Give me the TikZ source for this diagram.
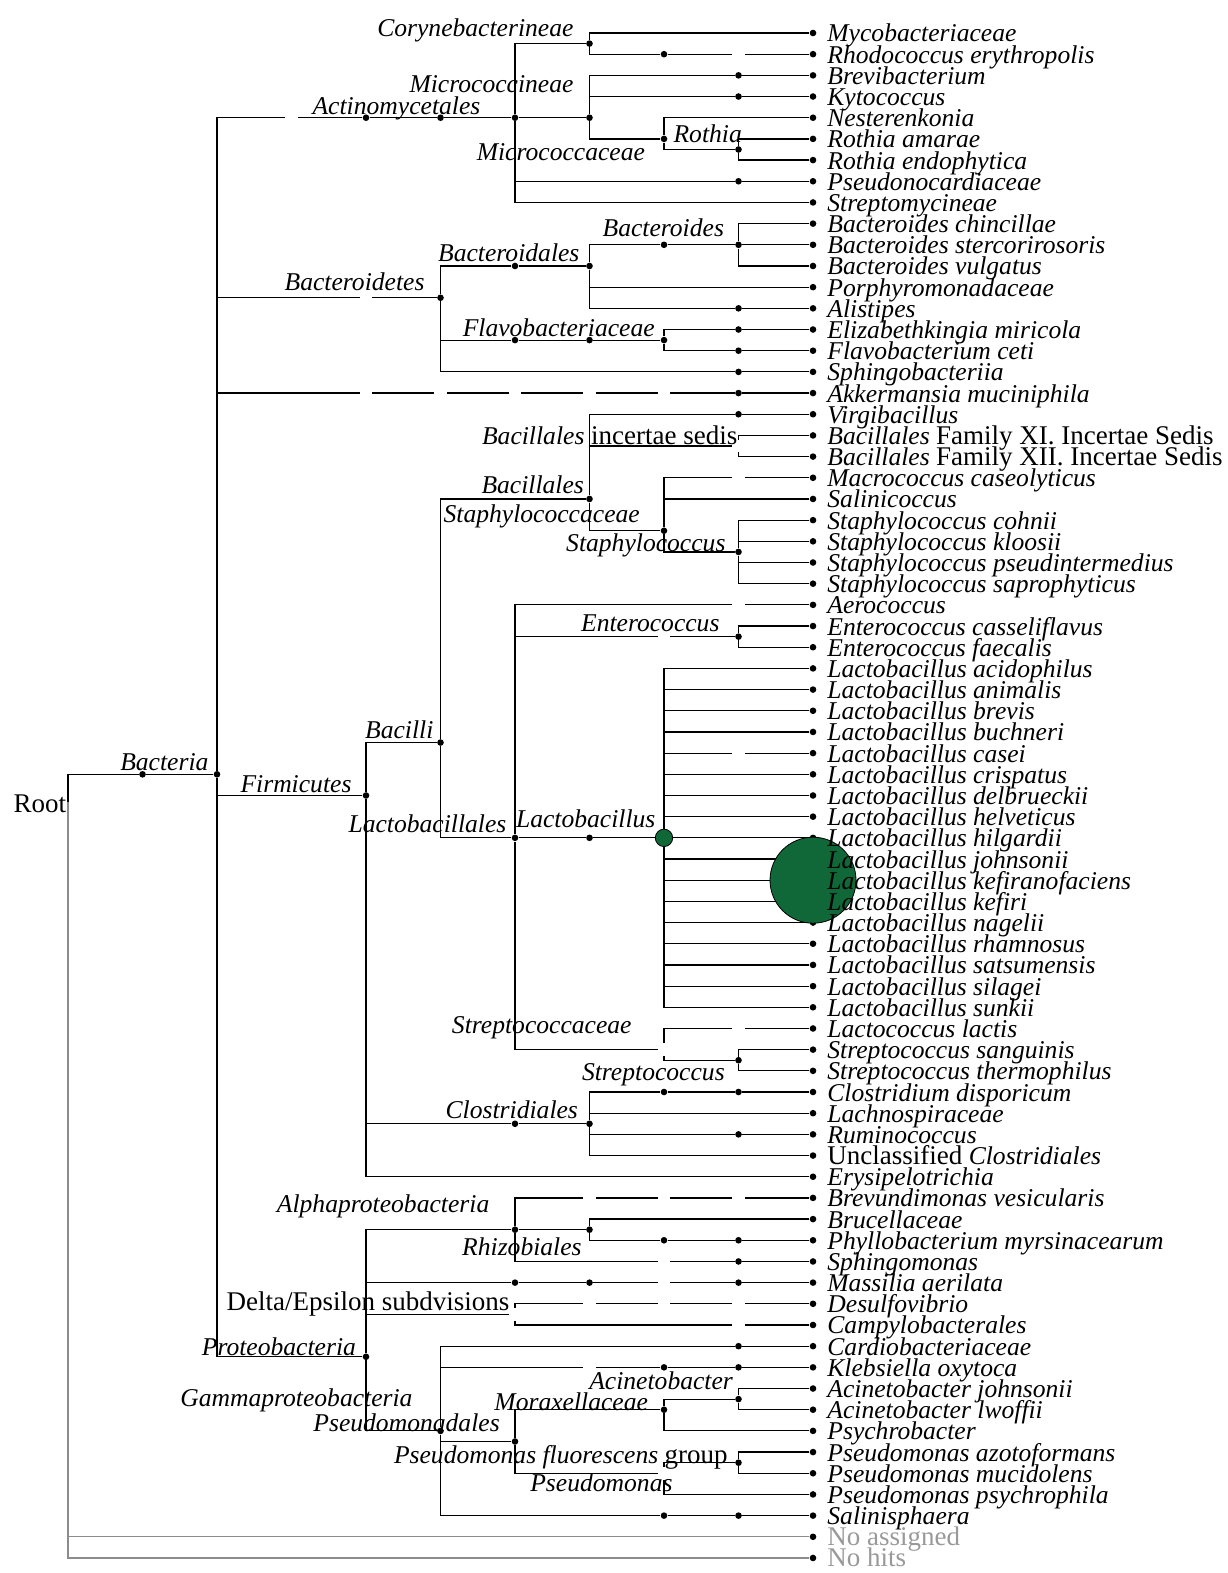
\documentclass[tikz,border=0pt]{standalone}
\usepackage{fontspec}
\setmainfont{Liberation Serif}
\usepackage{xcolor}
\usepackage{tikz}
\usetikzlibrary{positioning,calc}

\definecolor{lbgreen}{RGB}{16,104,56}
\newcommand{\uptxt}[1]{{\fontsize{13.5}{14}\selectfont\upshape #1}}
\newcommand{\ittxt}[1]{{\fontsize{12.8}{13}\selectfont\itshape #1}}

\begin{document}
\begin{tikzpicture}[
  x=37.25pt, y=-10.59pt,
  branch/.style={draw, line width=0.6pt},
  greybranch/.style={draw=black!45, line width=0.6pt},
  knot/.style={circle, fill=black, inner sep=0pt, minimum size=3.3pt},
  hollow/.style={circle, inner sep=0pt, minimum size=6pt},
  bubble/.style={circle, draw=black, line width=0.4pt, fill=lbgreen, inner sep=0pt},
  taxon/.style={font=\fontsize{12.8}{13}\selectfont\itshape, inner sep=0pt, anchor=base east, yshift=-2pt},
  plain/.style={taxon, font=\fontsize{13.5}{14}\selectfont\upshape},
  leaftxt/.style={font=\fontsize{12.8}{13}\selectfont\itshape, inner sep=0pt, anchor=base west}
]
\useasboundingbox (-0.9128,-0.558) rectangle (15.570,73.71);

% leaves (one row each)
\foreach \i in {1,...,73}
  \node[knot] (l\i) at (10,\i) {};

% Root and Bacteria
\coordinate (root) at (0,37.3);
\node[knot] (bact1) at (1,36) {};
\node[knot] (bact) at (2,36) {};

\draw[branch] (root) |- (bact1) -- (bact);
\draw[greybranch] (root) |- (l72);
\draw[greybranch] (root) |- (l73);

% Actinomycetales
\node[hollow] (act3) at (3,5) {};
\node[knot] (act4) at (4,5) {};
\node[knot] (act5) at (5,5) {};
\node[knot] (act) at (6,5) {};
\node[knot] (cory) at (7,1.5) {};
\node[knot] (rho8) at (8,2) {};
\node[hollow] (rho9) at (9,2) {};
\node[knot] (micro) at (7,5) {};
\node[knot] (bre9) at (9,3) {};
\node[knot] (kyt9) at (9,4) {};
\node[knot] (mcc) at (8,6) {};
\node[knot] (roth) at (9,6.5) {};
\node[knot] (psn9) at (9,8) {};

\draw[branch] (bact) |- (act3) -- (act4) -- (act5) -- (act);
\draw[branch] (act) |- (cory);
\draw[branch] (cory) |- (l1);
\draw[branch] (cory) |- (rho8) -- (rho9) -- (l2);
\draw[branch] (act) -- (micro);
\draw[branch] (micro) |- (bre9) -- (l3);
\draw[branch] (micro) |- (kyt9) -- (l4);
\draw[branch] (micro) |- (mcc);
\draw[branch] (mcc) |- (l5);
\draw[branch] (mcc) |- (roth);
\draw[branch] (roth) |- (l6);
\draw[branch] (roth) |- (l7);
\draw[branch] (act) |- (psn9) -- (l8);
\draw[branch] (act) |- (l9);

% Bacteroidetes
\node[hollow] (bdt4) at (4,13.5) {};
\node[knot] (bdt) at (5,13.5) {};
\node[knot] (bdl6) at (6,12) {};
\node[knot] (bdl) at (7,12) {};
\node[knot] (bds8) at (8,11) {};
\node[knot] (bds) at (9,11) {};
\node[knot] (ali9) at (9,14) {};
\node[knot] (flv6) at (6,15.5) {};
\node[knot] (flv7) at (7,15.5) {};
\node[knot] (flv) at (8,15.5) {};
\node[knot] (eli9) at (9,15) {};
\node[knot] (fla9) at (9,16) {};
\node[knot] (sph9) at (9,17) {};

\draw[branch] (bact) |- (bdt4) -- (bdt);
\draw[branch] (bdt) |- (bdl6) -- (bdl);
\draw[branch] (bdl) |- (bds8) -- (bds);
\draw[branch] (bds) |- (l10);
\draw[branch] (bds) -- (l11);
\draw[branch] (bds) |- (l12);
\draw[branch] (bdl) |- (l13);
\draw[branch] (bdl) |- (ali9) -- (l14);
\draw[branch] (bdt) |- (flv6) -- (flv7) -- (flv);
\draw[branch] (flv) |- (eli9) -- (l15);
\draw[branch] (flv) |- (fla9) -- (l16);
\draw[branch] (bdt) |- (sph9) -- (l17);

% Akkermansia
\foreach \k in {4,...,8}
  \node[hollow] (akk\k) at (\k,18) {};
\node[knot] (akk9) at (9,18) {};
\draw[branch] (bact) |- (akk4) -- (akk5) -- (akk6) -- (akk7) -- (akk8) -- (akk9) -- (l18);

% Firmicutes
\node[knot] (fir) at (4,37) {};
\node[knot] (bcl) at (5,34.5) {};
\node[knot] (bcs) at (7,23) {};
\node[knot] (vir9) at (9,19) {};
\node[hollow] (ins) at (9,20.5) {};
\node[knot] (stc) at (8,24.5) {};
\node[hollow] (mac9) at (9,22) {};
\node[knot] (sts) at (9,25.5) {};
\node[knot] (lcl) at (6,39) {};
\node[hollow] (aer9) at (9,28) {};
\node[hollow] (ent8) at (8,29.5) {};
\node[knot] (ent) at (9,29.5) {};
\node[knot] (lbc7) at (7,39) {};
\node[bubble, minimum size=8.7pt] (lb) at (8,39) {};
\node[hollow] (cas9) at (9,35) {};
\node[hollow] (stp) at (8,49) {};
\node[hollow] (lco9) at (9,48) {};
\node[knot] (str) at (9,49.5) {};
\node[knot] (clo6) at (6,52.5) {};
\node[knot] (clo) at (7,52.5) {};
\node[knot] (cd8) at (8,51) {};
\node[knot] (cd9) at (9,51) {};
\node[knot] (rum9) at (9,53) {};

\draw[branch] (bact) |- (fir);
\draw[branch] (fir) |- (bcl);
\draw[branch] (bcl) |- (bcs);
\draw[branch] (bcs) |- (vir9) -- (l19);
\draw[branch] (bcs) |- (ins);
\draw[branch] (ins) |- (l20);
\draw[branch] (ins) |- (l21);
\draw[branch] (bcs) |- (stc);
\draw[branch] (stc) |- (mac9) -- (l22);
\draw[branch] (stc) |- (l23);
\draw[branch] (stc) |- (sts);
\foreach \i in {24,...,27}
  \draw[branch] (sts) |- (l\i);
\draw[branch] (bcl) |- (lcl);
\draw[branch] (lcl) |- (aer9) -- (l28);
\draw[branch] (lcl) |- (ent8) -- (ent);
\draw[branch] (ent) |- (l29);
\draw[branch] (ent) |- (l30);
\draw[branch] (lcl) -- (lbc7) -- (lb) -- (l39);
\foreach \i in {31,32,33,34,36,37,38,40,41,42,43,44,45,46,47}
  \draw[branch] (lb) |- (l\i);
\draw[branch] (lb) |- (cas9) -- (l35);
\draw[branch] (lcl) |- (stp);
\draw[branch] (stp) |- (lco9) -- (l48);
\draw[branch] (stp) |- (str);
\draw[branch] (str) |- (l49);
\draw[branch] (str) |- (l50);
\draw[branch] (fir) |- (clo6) -- (clo);
\draw[branch] (clo) |- (cd8) -- (cd9) -- (l51);
\draw[branch] (clo) |- (l52);
\draw[branch] (clo) |- (rum9) -- (l53);
\draw[branch] (clo) |- (l54);
\draw[branch] (fir) |- (l55);

% Proteobacteria
\node[knot] (prt) at (4,63.5) {};
\node[knot] (alp) at (6,57.5) {};
\foreach \k in {7,8,9}
  \node[hollow] (bv\k) at (\k,56) {};
\node[knot] (rhz) at (7,57.5) {};
\node[knot] (phy8) at (8,58) {};
\node[knot] (phy9) at (9,58) {};
\node[hollow] (sgm8) at (8,59) {};
\node[knot] (sgm9) at (9,59) {};
\node[knot] (mas6) at (6,60) {};
\node[knot] (mas7) at (7,60) {};
\node[hollow] (mas8) at (8,60) {};
\node[knot] (mas9) at (9,60) {};
\node[hollow] (del) at (6,61.5) {};
\foreach \k in {7,8,9}
  \node[hollow] (dsv\k) at (\k,61) {};
\node[hollow] (cmp9) at (9,62) {};
\node[knot] (gam) at (5,67) {};
\node[knot] (car9) at (9,63) {};
\node[hollow] (kle7) at (7,64) {};
\node[knot] (kle8) at (8,64) {};
\node[knot] (kle9) at (9,64) {};
\node[knot] (psd) at (6,67.5) {};
\node[knot] (mrx) at (8,66) {};
\node[knot] (aci) at (9,65.5) {};
\node[hollow] (pse) at (8,69) {};
\node[knot] (pfg) at (9,68.5) {};
\node[knot] (sal8) at (8,71) {};
\node[knot] (sal9) at (9,71) {};

\draw[branch] (bact) |- (prt);
\draw[branch] (prt) |- (alp);
\draw[branch] (alp) |- (bv7) -- (bv8) -- (bv9) -- (l56);
\draw[branch] (alp) -- (rhz);
\draw[branch] (rhz) |- (l57);
\draw[branch] (rhz) |- (phy8) -- (phy9) -- (l58);
\draw[branch] (alp) |- (sgm8) -- (sgm9) -- (l59);
\draw[branch] (prt) |- (mas6) -- (mas7) -- (mas8) -- (mas9) -- (l60);
\draw[branch] (prt) |- (del);
\draw[branch] (del) |- (dsv7) -- (dsv8) -- (dsv9) -- (l61);
\draw[branch] (del) |- (cmp9) -- (l62);
\draw[branch] (prt) |- (gam);
\draw[branch] (gam) |- (car9) -- (l63);
\draw[branch] (gam) |- (kle7) -- (kle8) -- (kle9) -- (l64);
\draw[branch] (gam) |- (psd);
\draw[branch] (psd) |- (mrx);
\draw[branch] (mrx) |- (aci);
\draw[branch] (aci) |- (l65);
\draw[branch] (aci) |- (l66);
\draw[branch] (mrx) |- (l67);
\draw[branch] (psd) |- (pse);
\draw[branch] (pse) |- (pfg);
\draw[branch] (pfg) |- (l68);
\draw[branch] (pfg) |- (l69);
\draw[branch] (pse) |- (l70);
\draw[branch] (gam) |- (sal8) -- (sal9) -- (l71);

% big bubble over L. kefiranofaciens
\node[bubble, minimum size=43pt] (kef) at (l41) {};

% leaf names
\foreach \i/\txt in {1/Mycobacteriaceae, 2/Rhodococcus erythropolis, 3/Brevibacterium,
    4/Kytococcus, 5/Nesterenkonia, 6/Rothia amarae, 7/Rothia endophytica,
    8/Pseudonocardiaceae, 9/Streptomycineae, 10/Bacteroides chincillae,
    11/Bacteroides stercorirosoris, 12/Bacteroides vulgatus, 13/Porphyromonadaceae,
    14/Alistipes, 15/Elizabethkingia miricola, 16/Flavobacterium ceti,
    17/Sphingobacteriia, 18/Akkermansia muciniphila, 19/Virgibacillus,
    20/{Bacillales \uptxt{Family XI. Incertae Sedis}},
    21/{Bacillales \uptxt{Family XII. Incertae Sedis}},
    22/Macrococcus caseolyticus, 23/Salinicoccus, 24/Staphylococcus cohnii,
    25/Staphylococcus kloosii, 26/Staphylococcus pseudintermedius,
    27/Staphylococcus saprophyticus, 28/Aerococcus, 29/Enterococcus casseliflavus,
    30/Enterococcus faecalis, 31/Lactobacillus acidophilus, 32/Lactobacillus animalis,
    33/Lactobacillus brevis, 34/Lactobacillus buchneri, 35/Lactobacillus casei,
    36/Lactobacillus crispatus, 37/Lactobacillus delbrueckii, 38/Lactobacillus helveticus,
    39/Lactobacillus hilgardii, 40/Lactobacillus johnsonii, 41/Lactobacillus kefiranofaciens,
    42/Lactobacillus kefiri, 43/Lactobacillus nagelii, 44/Lactobacillus rhamnosus,
    45/Lactobacillus satsumensis, 46/Lactobacillus silagei, 47/Lactobacillus sunkii,
    48/Lactococcus lactis, 49/Streptococcus sanguinis, 50/Streptococcus thermophilus,
    51/Clostridium disporicum, 52/Lachnospiraceae, 53/Ruminococcus,
    54/{\uptxt{Unclassified} Clostridiales}, 55/Erysipelotrichia,
    56/Brevundimonas vesicularis, 57/Brucellaceae, 58/Phyllobacterium myrsinacearum,
    59/Sphingomonas, 60/Massilia aerilata, 61/Desulfovibrio, 62/Campylobacterales,
    63/Cardiobacteriaceae, 64/Klebsiella oxytoca, 65/Acinetobacter johnsonii,
    66/Acinetobacter lwoffii, 67/Psychrobacter, 68/Pseudomonas azotoformans,
    69/Pseudomonas mucidolens, 70/Pseudomonas psychrophila, 71/Salinisphaera,
    72/{\color{black!40}\uptxt{No assigned}}, 73/{\color{black!40}\uptxt{No hits}}}
  \node[leaftxt] (t\i) at ([xshift=7pt, yshift=-4.5pt]l\i.center) {\txt};

% inner node names
\node[plain] (tRoot) at (-0.02,37.63) {Root};
\node[taxon] (tBact) at (1.89,35.61) {Bacteria};
\node[taxon] (tFirm) at (3.81,36.65) {Firmicutes};
\node[taxon] (tBcl) at (4.91,34.10) {Bacilli};
\node[taxon] (tLcl) at (5.89,38.58) {Lactobacillales};
\node[taxon] (tLb) at (7.89,38.30) {Lactobacillus};
\node[taxon] (tAct) at (5.54,4.68) {Actinomycetales};
\node[taxon] (tCory) at (6.79,1.00) {Corynebacterineae};
\node[taxon] (tMicro) at (6.79,3.60) {Micrococcineae};
\node[taxon] (tMcc) at (7.75,6.85) {Micrococcaceae};
\node[taxon] (tRoth) at (9.05,6.00) {Rothia};
\node[taxon] (tBdt) at (4.79,12.99) {Bacteroidetes};
\node[taxon] (tBdl) at (6.87,11.62) {Bacteroidales};
\node[taxon] (tBds) at (8.81,10.40) {Bacteroides};
\node[taxon] (tFlv) at (7.88,15.12) {Flavobacteriaceae};
\node[plain] (tIns) at (8.99,20.22) {\ittxt{Bacillales} incertae sedis};
\node[taxon] (tBcs) at (6.93,22.53) {Bacillales};
\node[taxon] (tStc) at (7.68,23.90) {Staphylococcaceae};
\node[taxon] (tSts) at (8.83,25.31) {Staphylococcus};
\node[taxon] (tEnt) at (8.75,29.09) {Enterococcus};
\node[taxon] (tStp) at (7.57,48.07) {Streptococcaceae};
\node[taxon] (tStr) at (8.82,50.29) {Streptococcus};
\node[taxon] (tClo) at (6.85,52.04) {Clostridiales};
\node[taxon] (tAlp) at (5.66,56.48) {Alphaproteobacteria};
\node[taxon] (tRhz) at (6.90,58.55) {Rhizobiales};
\node[plain] (tDel) at (5.93,61.15) {Delta/Epsilon subdvisions};
\node[taxon] (tPrt) at (3.87,63.23) {Proteobacteria};
\node[taxon] (tGam) at (4.63,65.68) {Gammaproteobacteria};
\node[taxon] (tPsd) at (5.80,66.86) {Pseudomonadales};
\node[taxon] (tPfg) at (8.86,68.33) {Pseudomonas fluorescens \uptxt{group}};
\node[taxon] (tPse) at (8.12,69.65) {Pseudomonas};
\node[taxon] (tMrx) at (7.79,65.87) {Moraxellaceae};
\node[taxon] (tAci) at (8.93,64.88) {Acinetobacter};

\end{tikzpicture}
\end{document}
